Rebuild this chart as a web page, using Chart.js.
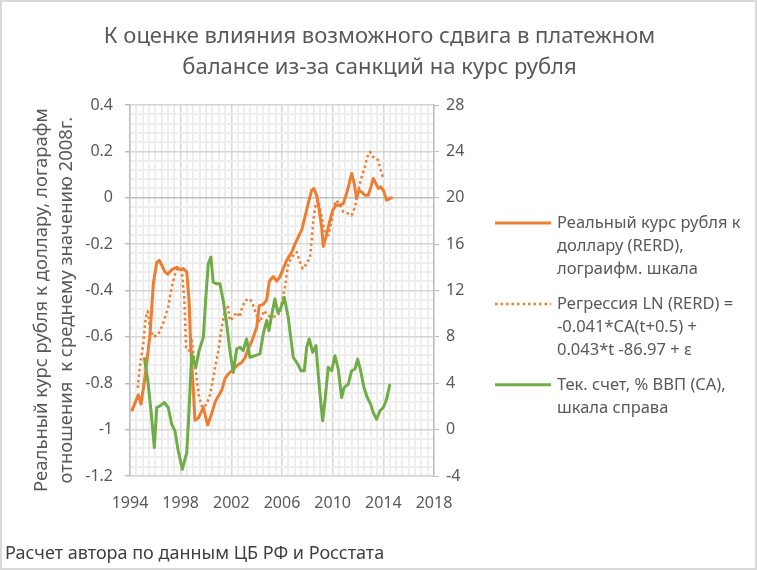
<!DOCTYPE html>
<html>
<head>
<meta charset="utf-8">
<script src="https://cdn.jsdelivr.net/npm/chart.js@4.4.1/dist/chart.umd.min.js"></script>
<style>
  html, body { margin: 0; padding: 0; background: #ffffff; }
  #rub-chart { display: block; }
</style>
</head>
<body>
<canvas id="rub-chart" width="757" height="570"></canvas>
<script>
// Real rouble rate (log, relative to 2008 average), left axis
const rerdYears = [1994.13, 1994.66, 1994.87, 1995.18, 1995.58, 1995.84, 1996.11, 1996.31, 1996.5, 1996.76,
  1996.98, 1997.29, 1997.69, 1997.95, 1998.21, 1998.48, 1998.66, 1998.81, 1999.0, 1999.13,
  1999.39, 1999.79, 2000.13, 2000.45, 2000.76, 2001.24, 2001.5, 2001.76, 2002.15, 2002.42,
  2002.82, 2003.08, 2003.34, 2003.61, 2004.0, 2004.2, 2004.52, 2004.79, 2005.0, 2005.31,
  2005.58, 2005.84, 2006.1, 2006.37, 2006.76, 2007.02, 2007.28, 2007.55, 2007.81, 2008.07,
  2008.34, 2008.52, 2008.74, 2008.94, 2009.13, 2009.26, 2009.47, 2009.73, 2010.0, 2010.26,
  2010.57, 2010.84, 2011.1, 2011.3, 2011.5, 2011.7, 2011.89, 2012.07, 2012.29, 2012.55,
  2012.81, 2013.02, 2013.2, 2013.42, 2013.6, 2013.81, 2014.0, 2014.26, 2014.47, 2014.73];
const rerdValues = [-0.92, -0.85, -0.89, -0.775, -0.59, -0.37, -0.28, -0.27, -0.29, -0.32,
  -0.33, -0.31, -0.30, -0.31, -0.305, -0.32, -0.44, -0.66, -0.83, -0.96,
  -0.95, -0.905, -0.98, -0.93, -0.875, -0.83, -0.78, -0.76, -0.74, -0.725,
  -0.71, -0.69, -0.65, -0.62, -0.56, -0.465, -0.46, -0.44, -0.36, -0.34,
  -0.36, -0.34, -0.305, -0.27, -0.235, -0.20, -0.17, -0.14, -0.083, -0.025,
  0.032, 0.04, 0.01, -0.054, -0.126, -0.21, -0.17, -0.11, -0.054, -0.032,
  -0.032, -0.025, 0.018, 0.061, 0.105, 0.061, -0.004, 0.032, 0.025, 0.011,
  0.011, 0.047, 0.083, 0.061, 0.04, 0.047, 0.032, -0.011, -0.004, 0.001];

// Regression fit, left axis
const regYears = [1994.61, 1994.79, 1995.05, 1995.24, 1995.4, 1995.58, 1995.84, 1996.23, 1996.63, 1997.02,
  1997.29, 1997.55, 1997.76, 1998.08, 1998.29, 1998.42, 1998.66, 1998.87, 1999.0, 1999.19,
  1999.45, 1999.71, 2000.05, 2000.31, 2000.57, 2000.97, 2001.24, 2001.5, 2001.71, 2001.89,
  2002.15, 2002.42, 2002.68, 2002.82, 2003.08, 2003.47, 2003.73, 2004.0, 2004.26, 2004.6,
  2004.87, 2005.18, 2005.7, 2005.97, 2006.23, 2006.49, 2006.76, 2007.16, 2007.42, 2007.63,
  2007.95, 2008.21, 2008.34, 2008.47, 2008.68, 2008.86, 2009.13, 2009.39, 2009.65, 2009.84,
  2010.05, 2010.26, 2010.52, 2010.84, 2011.23, 2011.5, 2011.76, 2012.02, 2012.29, 2012.55,
  2012.73, 2012.94, 2013.2, 2013.52, 2013.73, 2013.94];
const regValues = [-0.82, -0.72, -0.63, -0.515, -0.49, -0.565, -0.60, -0.59, -0.54, -0.47,
  -0.385, -0.33, -0.305, -0.31, -0.44, -0.645, -0.66, -0.615, -0.67, -0.745,
  -0.86, -0.905, -0.89, -0.85, -0.775, -0.66, -0.56, -0.48, -0.465, -0.53,
  -0.515, -0.494, -0.515, -0.48, -0.443, -0.436, -0.465, -0.508, -0.537, -0.486,
  -0.508, -0.515, -0.508, -0.458, -0.386, -0.285, -0.256, -0.234, -0.278, -0.306,
  -0.285, -0.256, -0.184, -0.097, -0.025, -0.011, -0.083, -0.155, -0.162, -0.119,
  -0.054, -0.011, -0.025, -0.061, -0.068, -0.076, -0.04, 0.032, 0.09, 0.133,
  0.176, 0.198, 0.176, 0.169, 0.133, 0.09];

// Current account, % of GDP, right axis
const caYears = [1995.13, 1995.44, 1995.71, 1995.92, 1996.11, 1996.37, 1996.71, 1997.02, 1997.29, 1997.55,
  1997.81, 1998.13, 1998.48, 1998.66, 1998.87, 1999.19, 1999.45, 1999.79, 1999.97, 2000.18,
  2000.39, 2000.57, 2000.84, 2001.1, 2001.36, 2001.63, 2001.89, 2002.15, 2002.42, 2002.68,
  2002.94, 2003.21, 2003.47, 2003.87, 2004.26, 2004.52, 2004.79, 2004.97, 2005.18, 2005.44,
  2005.66, 2005.84, 2006.18, 2006.49, 2006.89, 2007.24, 2007.5, 2007.76, 2007.95, 2008.15,
  2008.42, 2008.68, 2008.86, 2009.05, 2009.21, 2009.39, 2009.65, 2009.92, 2010.18, 2010.44,
  2010.71, 2010.91, 2011.23, 2011.5, 2011.76, 2011.97, 2012.21, 2012.47, 2012.73, 2013.0,
  2013.2, 2013.47, 2013.73, 2014.0, 2014.26, 2014.52];
const caValues = [6.23, 3.93, 1.04, -1.55, 1.91, 2.05, 2.34, 1.91, 0.47, -0.11,
  -1.84, -3.42, -1.98, 1.62, 6.53, 5.37, 6.81, 7.96, 11.14, 14.31,
  14.88, 12.72, 12.58, 12.58, 11.14, 9.12, 6.81, 4.93, 6.96, 7.1,
  6.81, 7.82, 6.23, 6.38, 6.53, 8.26, 9.41, 8.54, 9.84, 11.28,
  10.12, 10.27, 11.42, 9.69, 6.23, 5.66, 5.08, 5.08, 7.1, 7.82,
  6.66, 7.24, 4.79, 2.49, 0.76, 2.49, 5.37, 5.08, 6.38, 5.23,
  2.77, 3.64, 3.93, 5.08, 5.23, 6.09, 5.08, 3.64, 2.77, 2.2,
  1.47, 0.9, 1.62, 1.91, 2.63, 3.93];

const xStart = 1994;
const titleLines = ['К оценке влияния возможного сдвига в платежном', 'балансе из-за санкций на курс рубля'];
// trailing spaces nudge the rotated title a bit lower, like Excel placed it
const yTitleLines = ['Реальный курс рубля к доллару, логарафм    ', 'отношения  к среднему значению 2008г.    '];
const footerText = 'Расчет автора по данным ЦБ РФ и Росстата';
const legendRows = [
  ['Реальный курс рубля к', 'доллару (RERD),', 'лограифм. шкала'],
  ['Регрессия LN (RERD) =', '-0.041*CA(t+0.5) +', '0.043*t -86.97 + ε'],
  ['Тек. счет, % ВВП (CA),', 'шкала справа']
];

const FONT = '"Noto Sans", "DejaVu Sans", sans-serif';
const TEXT = '#595959';
const MAJOR = '#d6d6d6';
const MINOR = '#eeeeee';
const AXIS = '#bfbfbf';
const NONE = 'rgba(0,0,0,0)';

function isMultiple(v, step) {
  const r = v / step;
  return Math.abs(r - Math.round(r)) < 1e-6;
}

function toPoints(xs, ys) {
  return xs.map((x, i) => ({ x: x, y: ys[i] }));
}

// legend with wrapped labels + outer frame
const chartDecor = {
  id: 'chartDecor',
  afterDraw(chart) {
    const ctx = chart.ctx;
    ctx.save();
    let y = 223;
    legendRows.forEach((lines, i) => {
      const ds = chart.data.datasets[i];
      ctx.strokeStyle = ds.borderColor;
      ctx.lineWidth = ds.borderWidth;
      ctx.setLineDash(ds.borderDash || []);
      ctx.beginPath();
      ctx.moveTo(495, y);
      ctx.lineTo(551, y);
      ctx.stroke();
      ctx.setLineDash([]);
      ctx.font = '16.5px ' + FONT;
      ctx.fillStyle = TEXT;
      ctx.textAlign = 'left';
      ctx.textBaseline = 'middle';
      lines.forEach((t, j) => ctx.fillText(t, 557, y + j * 23.3));
      y += lines.length * 23.3 + 11;
    });
    ctx.strokeStyle = '#d9d9d9';
    ctx.lineWidth = 2;
    ctx.strokeRect(1, 1, 755, 568);
    ctx.restore();
  }
};

function createRubleChart() {
  const ctx = document.getElementById('rub-chart').getContext('2d');
  new Chart(ctx, {
    type: 'line',
    data: {
      datasets: [{
        label: 'RERD',
        data: toPoints(rerdYears, rerdValues),
        borderColor: '#ED7D31',
        borderWidth: 3,
        yAxisID: 'y',
        order: 1
      }, {
        label: 'Regression',
        data: toPoints(regYears, regValues),
        borderColor: '#ED7D31',
        borderWidth: 2.5,
        borderDash: [2.5, 3],
        yAxisID: 'y',
        order: 2
      }, {
        label: 'CA',
        data: toPoints(caYears, caValues),
        borderColor: '#70AD47',
        borderWidth: 3,
        yAxisID: 'y2',
        order: 0
      }]
    },
    options: {
      responsive: false,
      animation: false,
      devicePixelRatio: 1,
      elements: {
        point: { radius: 0 },
        line: { tension: 0, borderJoinStyle: 'round' }
      },
      layout: { padding: { left: 5, right: 3, top: 8, bottom: 0 } },
      plugins: {
        legend: { display: false },
        tooltip: { enabled: false },
        title: {
          display: true,
          text: titleLines,
          color: TEXT,
          font: { family: FONT, size: 22, weight: 'normal', lineHeight: '31px' },
          padding: { top: 13, bottom: 22 }
        },
        subtitle: {
          display: true,
          position: 'bottom',
          align: 'start',
          text: footerText,
          color: '#404040',
          font: { family: FONT, size: 18, weight: 'normal', lineHeight: '20px' },
          padding: { top: 0, bottom: 6 }
        }
      },
      scales: {
        x: {
          type: 'linear',
          min: 1994,
          max: 2018,
          afterFit: (scale) => { scale.height = 68; },
          ticks: {
            stepSize: 0.5,
            autoSkip: false,
            maxRotation: 0,
            maxTicksLimit: 100,
            padding: 13,
            color: TEXT,
            font: { family: FONT, size: 16 },
            callback: (v) => (isMultiple(v - xStart, 4) ? String(v) : '')
          },
          grid: {
            color: (c) => (isMultiple(c.tick.value - xStart, 4) ? MAJOR : MINOR),
            lineWidth: (c) => (isMultiple(c.tick.value - xStart, 4) ? 1.5 : 2),
            tickLength: 5,
            tickColor: NONE
          },
          border: { color: MAJOR, width: 1.5 }
        },
        y: {
          position: 'left',
          min: -1.2,
          max: 0.4,
          afterFit: (scale) => { scale.width = 125; },
          ticks: {
            stepSize: 0.04,
            autoSkip: false,
            maxTicksLimit: 100,
            padding: 12,
            color: TEXT,
            font: { family: FONT, size: 16 },
            callback: (v) => (isMultiple(v, 0.2) ? String(Math.round(v * 10) / 10) : '')
          },
          grid: {
            color: (c) => {
              if (Math.abs(c.tick.value) < 1e-9) return AXIS;
              return isMultiple(c.tick.value, 0.2) ? MAJOR : MINOR;
            },
            lineWidth: (c) => (isMultiple(c.tick.value, 0.2) ? 1.5 : 2),
            tickLength: 5,
            tickColor: (c) => (isMultiple(c.tick.value, 0.2) ? AXIS : NONE)
          },
          border: { color: AXIS, width: 1.5 },
          title: {
            display: true,
            text: yTitleLines,
            color: TEXT,
            font: { family: FONT, size: 18.5, weight: 'normal', lineHeight: '25px' },
            padding: { top: 24.5, bottom: 0 }
          }
        },
        y2: {
          position: 'right',
          min: -4,
          max: 28,
          afterFit: (scale) => { scale.width = 320; },
          ticks: {
            stepSize: 0.8,
            autoSkip: false,
            maxTicksLimit: 100,
            padding: 7,
            color: TEXT,
            font: { family: FONT, size: 16 },
            callback: (v) => (isMultiple(v, 4) ? String(Math.round(v)) : '')
          },
          grid: {
            drawOnChartArea: false,
            tickLength: 5,
            tickColor: (c) => (isMultiple(c.tick.value, 4) ? AXIS : NONE)
          },
          border: { color: AXIS, width: 1.5 }
        }
      }
    },
    plugins: [chartDecor]
  });
}

document.addEventListener('DOMContentLoaded', () => {
  createRubleChart();
});
</script>
</body>
</html>
